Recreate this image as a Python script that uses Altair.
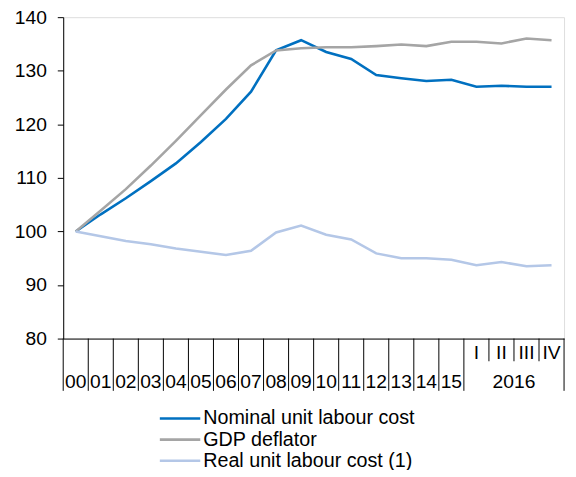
import altair as alt
import pandas as pd

# ---- data ----
periods = ["00", "01", "02", "03", "04", "05", "06", "07", "08", "09",
           "10", "11", "12", "13", "14", "15", "I", "II", "III", "IV"]
n_years = 16
group_label = "2016"
series_names = ["Nominal unit labour cost", "GDP deflator", "Real unit labour cost (1)"]
nominal = [100.0, 103.2, 106.2, 109.4, 112.7, 116.7, 121.0, 126.1, 133.8, 135.7,
           133.5, 132.2, 129.2, 128.6, 128.1, 128.3, 127.0, 127.2, 127.0, 127.0]
deflator = [100.0, 103.9, 107.9, 112.3, 116.9, 121.7, 126.5, 131.0, 133.8, 134.2,
            134.4, 134.4, 134.6, 134.9, 134.6, 135.4, 135.4, 135.1, 136.0, 135.7]
real = [100.0, 99.1, 98.2, 97.6, 96.8, 96.2, 95.6, 96.4, 99.8, 101.1,
        99.4, 98.5, 95.9, 95.0, 95.0, 94.7, 93.7, 94.3, 93.5, 93.7]
y_ticks = [80, 90, 100, 110, 120, 130, 140]
colors = ["#0070C0", "#A5A5A5", "#B4C7E7"]

FONT = "Liberation Sans"
N = len(periods)

# ---- tables built from the lists ----
rows = []
for name, vals in zip(series_names, [nominal, deflator, real]):
    for i, v in enumerate(vals):
        rows.append({"series": name, "pos": i + 0.5, "value": v, "period": periods[i]})
df = pd.DataFrame(rows)

labels_df = pd.DataFrame({"pos": [i + 0.5 for i in range(N)], "label": periods})
years_df = labels_df.iloc[:n_years]
quarters_df = labels_df.iloc[n_years:]
group_df = pd.DataFrame({"pos": [(n_years + N) / 2], "label": [group_label]})
major_df = pd.DataFrame({"b": list(range(0, n_years + 1)) + [N]})
minor_df = pd.DataFrame({"b": list(range(n_years + 1, N))})
legend_df = pd.DataFrame({"series": series_names, "k": list(range(len(series_names)))})

x_scale = alt.Scale(domain=[0, N], nice=False, zero=False)
color_scale = alt.Scale(domain=series_names, range=colors)

lines = alt.Chart(df).mark_line(strokeWidth=2.6).encode(
    x=alt.X("pos:Q", scale=x_scale,
            axis=alt.Axis(labels=False, ticks=False, grid=False, title=None,
                          domainColor="black", domainWidth=1)),
    y=alt.Y("value:Q", scale=alt.Scale(domain=[80, 140], nice=False, zero=False),
            axis=alt.Axis(values=y_ticks, tickSize=6, tickColor="black", tickWidth=1,
                          labelPadding=11, labelFontSize=19.5, labelColor="black",
                          labelFont=FONT, domainColor="black", domainWidth=1,
                          grid=False, title=None)),
    color=alt.Color("series:N", scale=color_scale, legend=None),
)

major = alt.Chart(major_df).mark_rule(color="black", strokeWidth=1).encode(
    x=alt.X("b:Q", scale=x_scale), y=alt.value(326), y2=alt.value(379))
minor = alt.Chart(minor_df).mark_rule(color="black", strokeWidth=1).encode(
    x=alt.X("b:Q", scale=x_scale), y=alt.value(326), y2=alt.value(349))

year_text = alt.Chart(years_df).mark_text(fontSize=19.5, font=FONT, color="black",
                                          baseline="middle").encode(
    x=alt.X("pos:Q", scale=x_scale), y=alt.value(370), text="label:N")
quarter_text = alt.Chart(quarters_df).mark_text(fontSize=19.5, font=FONT, color="black",
                                                baseline="middle").encode(
    x=alt.X("pos:Q", scale=x_scale), y=alt.value(341), text="label:N")
group_text = alt.Chart(group_df).mark_text(fontSize=19.5, font=FONT, color="black",
                                           baseline="middle").encode(
    x=alt.X("pos:Q", scale=x_scale), y=alt.value(370), text="label:N")

leg_y = alt.Y("k:Q", scale=alt.Scale(domain=[0, 2], range=[407, 450]), axis=None)
legend_rules = alt.Chart(legend_df).mark_rule(strokeWidth=2.6).encode(
    x=alt.value(98), x2=alt.value(139), y=leg_y,
    color=alt.Color("series:N", scale=color_scale, legend=None))
legend_text = alt.Chart(legend_df).mark_text(fontSize=20, font=FONT, color="black",
                                             align="left", baseline="middle").encode(
    x=alt.value(142), y=leg_y, text="series:N")

chart = alt.layer(
    lines, major, minor, year_text, quarter_text, group_text, legend_rules, legend_text
).resolve_scale(y="independent").properties(
    width=508, height=326,
    autosize=alt.AutoSizeParams(type="none"),
    padding={"left": 56, "top": 6, "right": 4, "bottom": 130},
).configure_view(stroke=None).configure(font=FONT)

chart.save("out.html", embed_options={"renderer": "svg", "actions": False})
